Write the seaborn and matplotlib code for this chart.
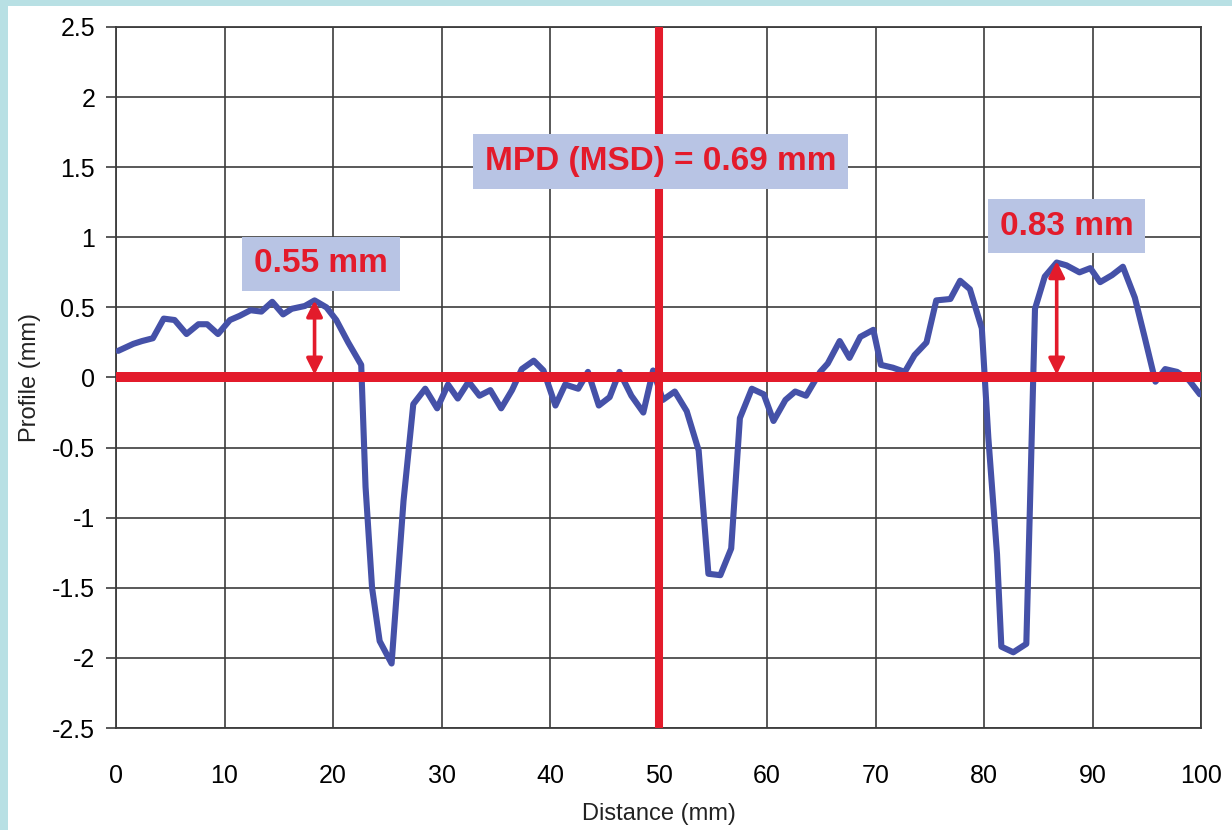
import matplotlib
matplotlib.use("Agg")
import matplotlib.pyplot as plt
import seaborn as sns
import pandas as pd
from matplotlib.patches import Rectangle

# ---- data ----
distance = [0.2, 1.6, 2.4, 3.4, 4.4, 5.4, 6.5, 7.6, 8.4, 9.4,
            10.5, 11.4, 12.4, 13.4, 14.4, 15.4, 16.2, 17.4, 18.3, 19.4,
            20.3, 21.4, 22.6, 23.0, 23.6, 24.3, 25.4, 26.5, 27.4, 28.5,
            29.6, 30.6, 31.5, 32.5, 33.5, 34.5, 35.5, 36.5, 37.4, 38.5,
            39.4, 40.5, 41.4, 42.6, 43.5, 44.5, 45.5, 46.4, 47.5, 48.6,
            49.5, 50.4, 51.5, 52.6, 53.7, 54.6, 55.7, 56.7, 57.5, 58.6,
            59.7, 60.6, 61.7, 62.6, 63.6, 64.9, 65.6, 66.7, 67.6, 68.6,
            69.8, 70.5, 71.6, 72.7, 73.6, 74.7, 75.6, 76.9, 77.8, 78.7,
            79.8, 80.4, 81.2, 81.6, 82.7, 83.9, 84.2, 84.7, 85.6, 86.7,
            87.6, 88.8, 89.8, 90.7, 91.8, 92.8, 93.9, 94.8, 95.8, 96.7,
            97.8, 98.9, 99.9]
profile = [0.19, 0.24, 0.26, 0.28, 0.42, 0.41, 0.31, 0.38, 0.38, 0.31,
           0.41, 0.44, 0.48, 0.47, 0.54, 0.45, 0.49, 0.51, 0.55, 0.50,
           0.41, 0.25, 0.09, -0.78, -1.50, -1.88, -2.04, -0.88, -0.19, -0.08,
           -0.22, -0.05, -0.15, -0.03, -0.13, -0.09, -0.22, -0.09, 0.06, 0.12,
           0.05, -0.20, -0.05, -0.08, 0.04, -0.20, -0.14, 0.04, -0.13, -0.25,
           0.05, -0.16, -0.10, -0.24, -0.52, -1.40, -1.41, -1.22, -0.29, -0.08,
           -0.12, -0.31, -0.16, -0.10, -0.13, 0.04, 0.10, 0.26, 0.14, 0.29,
           0.34, 0.09, 0.07, 0.04, 0.16, 0.25, 0.55, 0.56, 0.69, 0.63,
           0.35, -0.43, -1.26, -1.92, -1.96, -1.90, -1.02, 0.49, 0.72, 0.82,
           0.80, 0.75, 0.78, 0.68, 0.73, 0.79, 0.57, 0.29, -0.03, 0.06,
           0.04, -0.02, -0.12]

x_ticks = [0, 10, 20, 30, 40, 50, 60, 70, 80, 90, 100]
y_ticks = [-2.5, -2, -1.5, -1, -0.5, 0, 0.5, 1, 1.5, 2, 2.5]
y_tick_labels = ["-2.5", "-2", "-1.5", "-1", "-0.5", "0", "0.5", "1", "1.5", "2", "2.5"]

mean_level = 0.0
center_x = 50
peaks_x = [18.3, 86.7]
peaks_y = [0.55, 0.83]
peak_labels = ["0.55 mm", "0.83 mm"]
peak_label_pos = [(18.9, 0.81), (87.6, 1.08)]
mpd_label = "MPD (MSD) = 0.69 mm"
mpd_label_pos = (50.2, 1.54)

# ---- style ----
sns.set_theme(style="white")
plt.rcParams["font.family"] = ["Liberation Sans", "DejaVu Sans"]

BLUE = "#4551a8"
RED = "#e31b2b"
BOXC = "#b8c4e4"
GRID = "#3c3c3c"

fig = plt.figure(figsize=(12.32, 8.30), dpi=100, facecolor="#b8e0e4")
fig.patches.append(Rectangle((8 / 1232, 0), 1, 1 - 6 / 830, transform=fig.transFigure,
                             facecolor="white", edgecolor="none", zorder=-5))
ax = fig.add_axes([116 / 1232, 1 - 728 / 830, (1201 - 116) / 1232, (728 - 27) / 830])
ax.set_zorder(1)
ax.set_facecolor("white")

df = pd.DataFrame({"Distance": distance, "Profile": profile})
sns.lineplot(data=df, x="Distance", y="Profile", ax=ax, color=BLUE, linewidth=4.4, zorder=3)

ax.set_xlim(0, 100)
ax.set_ylim(-2.5, 2.5)
ax.set_xticks(x_ticks)
ax.set_yticks(y_ticks)
ax.set_yticklabels(y_tick_labels)
ax.grid(True, color=GRID, linewidth=1.2)
ax.set_axisbelow(True)
for s in ax.spines.values():
    s.set_visible(True)
    s.set_color(GRID)
    s.set_linewidth(1.3)
ax.tick_params(axis="y", left=True, length=7, width=1.2, color=GRID, pad=8, labelsize=18, labelcolor="black")
ax.tick_params(axis="x", bottom=False, length=0, pad=26, labelsize=18, labelcolor="black")
ax.set_xlabel("Distance (mm)", fontsize=17, color="#222222", labelpad=11)
ax.set_ylabel("Profile (mm)", fontsize=17, color="#222222", labelpad=8)

# red reference lines
ax.axhline(mean_level, color=RED, linewidth=7.2, zorder=4)
ax.axvline(center_x, color=RED, linewidth=5.8, zorder=4)

# double arrows
for px, py in zip(peaks_x, peaks_y):
    ax.annotate("", xy=(px, py), xytext=(px, mean_level + 0.02),
                arrowprops=dict(arrowstyle="<|-|>", color=RED, lw=2.6,
                                mutation_scale=24, shrinkA=0, shrinkB=0),
                zorder=5)

# labels with boxes
for (tx, ty), lab in zip(peak_label_pos, peak_labels):
    ax.text(tx, ty, lab, color=RED, fontsize=24, fontweight="bold", ha="center", va="center",
            zorder=6, bbox=dict(boxstyle="square,pad=0.35", facecolor=BOXC, edgecolor="none"))
ax.text(mpd_label_pos[0], mpd_label_pos[1], mpd_label, color=RED, fontsize=24, fontweight="bold",
        ha="center", va="center", zorder=6,
        bbox=dict(boxstyle="square,pad=0.35", facecolor=BOXC, edgecolor="none"))

fig.savefig("out.png", dpi=100, facecolor=fig.get_facecolor())
